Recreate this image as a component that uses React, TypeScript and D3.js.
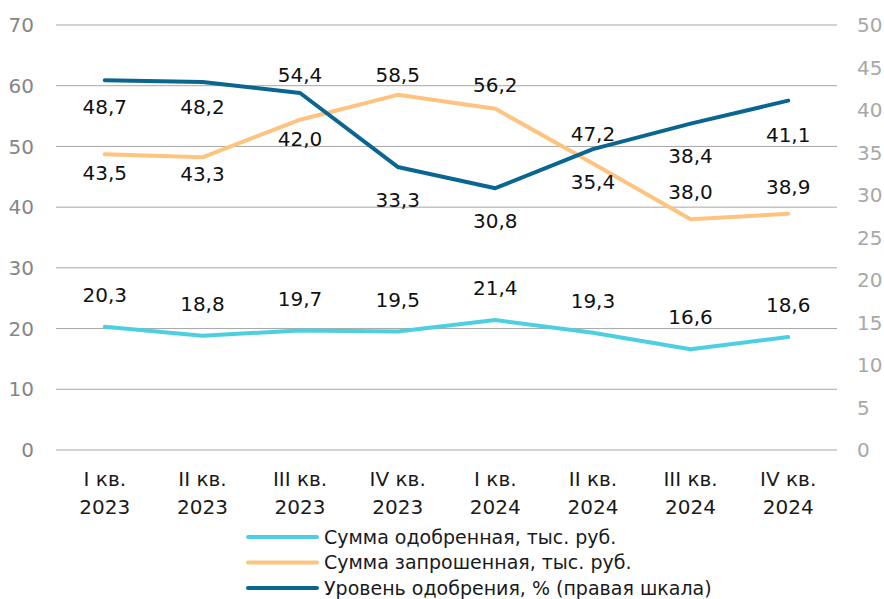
import React from "react";
import * as d3 from "d3";

const categories = [
  ["I кв.", "2023"],
  ["II кв.", "2023"],
  ["III кв.", "2023"],
  ["IV кв.", "2023"],
  ["I кв.", "2024"],
  ["II кв.", "2024"],
  ["III кв.", "2024"],
  ["IV кв.", "2024"],
];
const approvedSum = [20.3, 18.8, 19.7, 19.5, 21.4, 19.3, 16.6, 18.6];
const requestedSum = [48.7, 48.2, 54.4, 58.5, 56.2, 47.2, 38.0, 38.9];
const approvalRate = [43.5, 43.3, 42.0, 33.3, 30.8, 35.4, 38.4, 41.1];
const leftTicks = [0, 10, 20, 30, 40, 50, 60, 70];
const rightTicks = [0, 5, 10, 15, 20, 25, 30, 35, 40, 45, 50];
const legendNames = [
  "Сумма одобренная, тыс. руб.",
  "Сумма запрошенная, тыс. руб.",
  "Уровень одобрения, % (правая шкала)",
];

// layout: label vertical offsets (px) relative to each point
const approvedLabelDy = [-32, -32, -32, -32, -32, -32, -32, -32];
const requestedLabelDy = [-48, -51, -45, -20, -24, -30, -27, -27];
const rateLabelDy = [93, 92, 46, 33, 33, 33, 32, 34];

const W = 884;
const H = 599;
const FONT = "'DejaVu Sans', sans-serif";
const C_LIGHT = "#4ccfe1";
const C_ORANGE = "#fec47f";
const C_DARK = "#0a6690";

export default function App() {
  const x = d3
    .scalePoint<number>()
    .domain(d3.range(categories.length))
    .range([56, 837])
    .padding(0.5);
  const yL = d3.scaleLinear().domain([0, 70]).range([450, 25]);
  const yR = d3.scaleLinear().domain([0, 50]).range([450, 25]);

  const lineL = d3
    .line<number>()
    .x((_, i) => x(i) as number)
    .y((d) => yL(d));
  const lineR = d3
    .line<number>()
    .x((_, i) => x(i) as number)
    .y((d) => yR(d));

  const fmt = (v: number) => v.toFixed(1).replace(".", ",");

  const series = [
    { data: approvedSum, color: C_LIGHT, y: yL, dy: approvedLabelDy, line: lineL },
    { data: requestedSum, color: C_ORANGE, y: yL, dy: requestedLabelDy, line: lineL },
    { data: approvalRate, color: C_DARK, y: yR, dy: rateLabelDy, line: lineR },
  ];

  return (
    <svg
      width={W}
      height={H}
      style={{ position: "absolute", left: 0, top: 0, background: "#fff" }}
      fontFamily={FONT}
    >
      {leftTicks.map((t) => (
        <g key={"l" + t}>
          <line x1={56} x2={837} y1={yL(t)} y2={yL(t)} stroke="#a6a6a6" strokeWidth={1} />
          <text x={34} y={yL(t)} dy="0.36em" textAnchor="end" fontSize={20} fill="#868686">
            {t}
          </text>
        </g>
      ))}
      {rightTicks.map((t) => (
        <text key={"r" + t} x={857} y={yR(t)} dy="0.36em" textAnchor="start" fontSize={20} fill="#a8a8a8">
          {t}
        </text>
      ))}
      {categories.map((c, i) => (
        <g key={"c" + i}>
          <text x={x(i)} y={486} textAnchor="middle" fontSize={20} fill="#1a1a1a">
            {c[0]}
          </text>
          <text x={x(i)} y={514} textAnchor="middle" fontSize={20} fill="#1a1a1a">
            {c[1]}
          </text>
        </g>
      ))}
      {series.map((s, k) => (
        <path
          key={"p" + k}
          d={s.line(s.data) as string}
          fill="none"
          stroke={s.color}
          strokeWidth={4}
          strokeLinejoin="round"
          strokeLinecap="round"
        />
      ))}
      {series.map((s, k) =>
        s.data.map((v, i) => (
          <text
            key={"t" + k + "-" + i}
            x={x(i)}
            y={s.y(v) + s.dy[i]}
            dy="0.36em"
            textAnchor="middle"
            fontSize={20}
            fill="#111"
          >
            {fmt(v)}
          </text>
        ))
      )}
      {legendNames.map((n, k) => (
        <g key={"lg" + k}>
          <line
            x1={248}
            x2={317}
            y1={537 + k * 25.5}
            y2={537 + k * 25.5}
            stroke={series[k].color}
            strokeWidth={4}
            strokeLinecap="round"
          />
          <text x={324} y={537 + k * 25.5} dy="0.36em" fontSize={19} fill="#1a1a1a">
            {n}
          </text>
        </g>
      ))}
    </svg>
  );
}
